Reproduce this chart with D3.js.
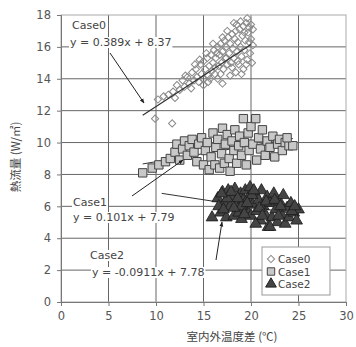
<!DOCTYPE html>
<html>
<head>
<meta charset="utf-8">
<script src="https://cdn.jsdelivr.net/npm/d3@7"></script>
<style>
  body { margin: 0; background: #fff; }
  text { font-family: "DejaVu Sans", sans-serif; fill: #444; }
</style>
</head>
<body>
<figure id="chart" style="margin:0"></figure>
<script>
// values: [temperature difference (°C), heat flux (W/m2)]
const case0 = [
  [9.9,11.5],[11.7,11.2],[10.2,12.7],[10.8,12.9],[11.3,13.0],[11.8,13.2],[12.2,13.6],[12.5,13.3],
  [12.8,13.9],[13.0,13.5],[13.3,14.1],[13.5,13.7],[13.8,14.4],[14.0,13.9],[14.2,14.6],[14.3,14.1],
  [14.5,13.8],[14.7,14.9],[14.8,14.3],[15.0,14.0],[15.0,15.1],[15.2,14.6],[15.4,15.3],[15.5,14.2],
  [15.6,14.8],[15.8,15.5],[15.9,14.5],[16.0,15.0],[16.1,15.8],[16.2,14.3],[16.3,15.3],[16.5,16.0],
  [16.6,14.8],[16.7,15.5],[16.8,16.2],[16.9,15.0],[17.0,15.7],[17.1,14.6],[17.2,16.4],[17.3,15.3],
  [17.4,16.0],[17.5,14.9],[17.6,16.6],[17.7,15.6],[17.8,16.2],[17.9,15.0],[18.0,16.8],[18.1,15.9],
  [18.2,15.3],[18.3,16.5],[18.4,17.0],[18.5,15.7],[18.6,16.3],[18.7,14.9],[18.8,17.1],[18.9,16.0],
  [19.0,15.4],[19.1,16.7],[19.2,17.3],[19.3,15.8],[19.4,16.4],[19.5,17.5],[19.6,15.2],[19.7,16.9],
  [19.8,17.2],[19.9,15.6],[20.0,16.5],[20.0,17.4],[19.5,14.9],[18.0,14.7],[16.5,14.0],[17.0,13.7],
  [19.0,14.3],[15.5,13.8],[18.5,17.4],[20.2,17.1],[14.6,15.2],[15.3,15.6],[16.0,16.2],[16.4,15.6],
  [17.0,16.6],[17.5,17.0],[18.2,17.5],[18.9,17.6],[19.6,17.8],[19.2,14.6],[20.1,15.0],[20.2,16.1],
  [17.8,14.2],[16.8,14.3],[18.4,14.4],[15.0,13.6],[13.7,13.4],[12.0,12.8],[14.1,14.9],[16.2,14.7],
  [17.4,15.3],[18.6,15.1],[19.8,16.3],[19.3,16.9],[15.7,14.0],[13.1,14.2]
];
const case1 = [
  [8.6,8.1],[9.6,8.4],[10.3,8.6],[11.0,8.8],[11.5,9.0],[12.0,9.4],[12.2,9.9],[12.5,8.9],
  [12.8,9.6],[13.0,10.1],[13.3,9.2],[13.5,9.8],[13.8,10.2],[14.0,9.4],[14.3,8.8],[14.5,9.9],
  [14.8,10.3],[15.0,8.6],[15.2,9.5],[15.4,10.0],[15.6,8.3],[15.8,9.1],[16.0,10.6],[16.2,8.6],
  [16.3,9.7],[16.5,10.2],[16.7,8.4],[16.9,9.3],[17.0,10.9],[17.2,8.7],[17.3,9.9],[17.5,10.5],
  [17.7,9.0],[17.8,8.2],[18.0,10.1],[18.2,9.5],[18.3,10.8],[18.5,8.7],[18.7,9.8],[18.8,10.4],
  [19.0,9.2],[19.2,11.5],[19.3,10.0],[19.5,8.6],[19.7,10.6],[19.8,9.5],[20.0,11.0],[20.2,9.9],
  [20.5,11.5],[20.6,8.9],[20.8,10.3],[21.0,9.6],[21.2,10.8],[21.5,9.2],[21.7,10.1],[22.0,9.7],
  [22.3,10.4],[22.5,9.1],[22.8,9.9],[23.0,10.2],[23.3,9.5],[23.6,10.0],[24.0,9.8],[24.4,9.8],
  [23.8,10.3]
];
const case2 = [
  [15.9,5.3],[16.5,6.5],[16.8,5.6],[17.0,6.9],[17.2,6.2],[17.4,5.3],[17.6,7.0],[17.8,6.0],
  [18.0,6.6],[18.2,5.4],[18.3,7.1],[18.5,6.2],[18.7,5.6],[18.9,6.8],[19.0,5.2],[19.2,6.4],
  [19.4,7.0],[19.5,5.8],[19.7,6.5],[19.9,7.2],[20.0,5.4],[20.2,6.1],[20.4,6.8],[20.6,5.7],
  [20.8,6.4],[21.0,5.1],[21.1,7.0],[21.3,6.0],[21.5,5.5],[21.7,6.6],[21.8,4.7],[22.0,6.2],
  [22.2,5.3],[22.4,6.8],[22.6,5.8],[22.8,5.0],[23.0,6.3],[23.2,5.5],[23.4,6.7],[23.6,4.9],
  [23.8,5.9],[24.0,5.3],[24.2,6.2],[24.5,5.6],[24.8,5.1],[25.0,5.8],[22.0,4.7],[19.0,6.0],
  [17.5,6.5],[20.5,4.9],[16.6,6.0],[17.1,5.8],[17.9,6.9],[18.6,6.5],[19.3,5.5],[20.1,6.7],
  [20.9,5.9],[21.6,6.3],[22.5,6.4],[23.1,6.0],[24.3,5.7],[19.6,6.2],[18.2,5.9],[21.2,5.4],
  [16.9,6.8],[20.3,7.0],[22.9,5.4],[24.6,6.0]
];
// regression lines: slope, intercept, x range drawn
const fits = [
  { slope: 0.389, icpt: 8.37, x0: 8.6, x1: 20.0 },
  { slope: 0.101, icpt: 7.79, x0: 8.6, x1: 24.4 },
  { slope: -0.0911, icpt: 7.78, x0: 10.6, x1: 25.0 }
];
const xTicks = [0, 5, 10, 15, 20, 25, 30];
const yTicks = [0, 2, 4, 6, 8, 10, 12, 14, 16, 18];
const legendNames = ["Case0", "Case1", "Case2"];

const W = 356, H = 347;
const svg = d3.select("figure#chart").append("svg").attr("width", W).attr("height", H);

const x = d3.scaleLinear().domain([0, 30]).range([61, 346]);
const y = d3.scaleLinear().domain([0, 18]).range([302, 15]);

// grid
svg.append("g").selectAll("line").data(xTicks.slice(1, -1)).enter().append("line")
  .attr("x1", d => x(d)).attr("x2", d => x(d)).attr("y1", y(0)).attr("y2", y(18))
  .attr("stroke", "#666").attr("stroke-width", 1);
svg.append("g").selectAll("line").data(yTicks.slice(1, -1)).enter().append("line")
  .attr("x1", x(0)).attr("x2", x(30)).attr("y1", d => y(d)).attr("y2", d => y(d))
  .attr("stroke", "#666").attr("stroke-width", 1);
svg.append("rect").attr("x", x(0)).attr("y", y(18)).attr("width", x(30) - x(0)).attr("height", y(0) - y(18))
  .attr("fill", "none").attr("stroke", "#aaa");

// axes
const xAxis = svg.append("g").attr("transform", "translate(0," + y(0) + ")")
  .call(d3.axisBottom(x).tickValues(xTicks).tickSize(4).tickPadding(6));
const yAxis = svg.append("g").attr("transform", "translate(" + x(0) + ",0)")
  .call(d3.axisLeft(y).tickValues(yTicks).tickSize(4).tickPadding(6));
[xAxis, yAxis].forEach(a => {
  a.select(".domain").attr("stroke", "#777");
  a.selectAll(".tick line").attr("stroke", "#777");
  a.selectAll("text").style("font-size", "11.5px").style("fill", "#555");
});

// fit lines
const lineFor = f => [[f.x0, f.slope * f.x0 + f.icpt], [f.x1, f.slope * f.x1 + f.icpt]];
svg.append("g").selectAll("line").data(fits.slice(1)).enter().append("line")
  .attr("x1", d => x(lineFor(d)[0][0])).attr("y1", d => y(lineFor(d)[0][1]))
  .attr("x2", d => x(lineFor(d)[1][0])).attr("y2", d => y(lineFor(d)[1][1]))
  .attr("stroke", "#333").attr("stroke-width", 1);

// markers
const diamond = d3.symbol().type(d3.symbolSquare).size(26);
const square = d3.symbol().type(d3.symbolSquare).size(70);
const tri = d3.symbol().type(d3.symbolTriangle).size(60);

svg.append("g").selectAll("path").data(case0).enter().append("path")
  .attr("d", diamond).attr("transform", d => "translate(" + x(d[0]) + "," + y(d[1]) + ") rotate(45)")
  .attr("fill", "none").attr("stroke", "#8a8a8a").attr("stroke-width", 1);
svg.append("line")
  .attr("x1", x(lineFor(fits[0])[0][0])).attr("y1", y(lineFor(fits[0])[0][1]))
  .attr("x2", x(lineFor(fits[0])[1][0])).attr("y2", y(lineFor(fits[0])[1][1]))
  .attr("stroke", "#333").attr("stroke-width", 1.2);
svg.append("g").selectAll("path").data(case1).enter().append("path")
  .attr("d", square).attr("transform", d => "translate(" + x(d[0]) + "," + y(d[1]) + ")")
  .attr("fill", "#c8c8c8").attr("stroke", "#444").attr("stroke-width", 1);
svg.append("g").selectAll("path").data(case2).enter().append("path")
  .attr("d", tri).attr("transform", d => "translate(" + x(d[0]) + "," + y(d[1]) + ")")
  .attr("fill", "#444").attr("stroke", "#1a1a1a").attr("stroke-width", 0.8);

// annotation arrows
svg.append("defs").append("marker").attr("id", "ah").attr("viewBox", "0 0 10 10")
  .attr("refX", 9).attr("refY", 5).attr("markerWidth", 5).attr("markerHeight", 5).attr("orient", "auto")
  .append("path").attr("d", "M0,1L10,5L0,9Z").attr("fill", "#222");
const arrows = [[110, 53, 144, 103], [132, 196, 183, 160], [216, 260, 222, 222]];
svg.append("g").selectAll("line").data(arrows).enter().append("line")
  .attr("x1", d => d[0]).attr("y1", d => d[1]).attr("x2", d => d[2]).attr("y2", d => d[3])
  .attr("stroke", "#222").attr("stroke-width", 1).attr("marker-end", "url(#ah)");

// labels with white boxes
const notes = [
  ["Case0", 72, 29], ["y = 0.389x + 8.37", 70, 46],
  ["Case1", 73, 206], ["y = 0.101x + 7.79", 73, 221],
  ["Case2", 90, 259], ["y = -0.0911x + 7.78", 92, 276]
];
notes.forEach(n => {
  const g = svg.append("g");
  const t = g.append("text").attr("x", n[1]).attr("y", n[2]).style("font-size", "11px").text(n[0]);
  const b = t.node().getBBox();
  g.insert("rect", "text").attr("x", b.x - 1).attr("y", b.y + 1).attr("width", b.width + 2).attr("height", b.height - 2)
    .attr("fill", "#fff");
});

// legend
const lg = svg.append("g");
lg.append("rect").attr("x", 262).attr("y", 247).attr("width", 68).attr("height", 48)
  .attr("fill", "#fff").attr("stroke", "#999");
const lsym = [
  { s: d3.symbol().type(d3.symbolSquare).size(26), rot: 45, fill: "#fff", stroke: "#888" },
  { s: d3.symbol().type(d3.symbolSquare).size(55), rot: 0, fill: "#c8c8c8", stroke: "#444" },
  { s: d3.symbol().type(d3.symbolTriangle).size(50), rot: 0, fill: "#444", stroke: "#222" }
];
legendNames.forEach((name, i) => {
  const cy = 259 + i * 12.5;
  lg.append("path").attr("d", lsym[i].s).attr("transform", "translate(271," + cy + ") rotate(" + lsym[i].rot + ")")
    .attr("fill", lsym[i].fill).attr("stroke", lsym[i].stroke);
  lg.append("text").attr("x", 278).attr("y", cy + 4).style("font-size", "10.5px").text(name);
});

// axis titles
svg.append("text").attr("x", 232).attr("y", 341).attr("text-anchor", "middle")
  .style("font-family", "'Noto Sans CJK JP', sans-serif").style("font-size", "11.5px").style("fill", "#444")
  .text("室内外温度差 (℃)");
svg.append("text").attr("transform", "translate(20,157) rotate(-90)").attr("text-anchor", "middle")
  .style("font-family", "'Noto Sans CJK JP', sans-serif").style("font-size", "11.5px").style("fill", "#444")
  .text("熱流量 (W/㎡)");
</script>
</body>
</html>
